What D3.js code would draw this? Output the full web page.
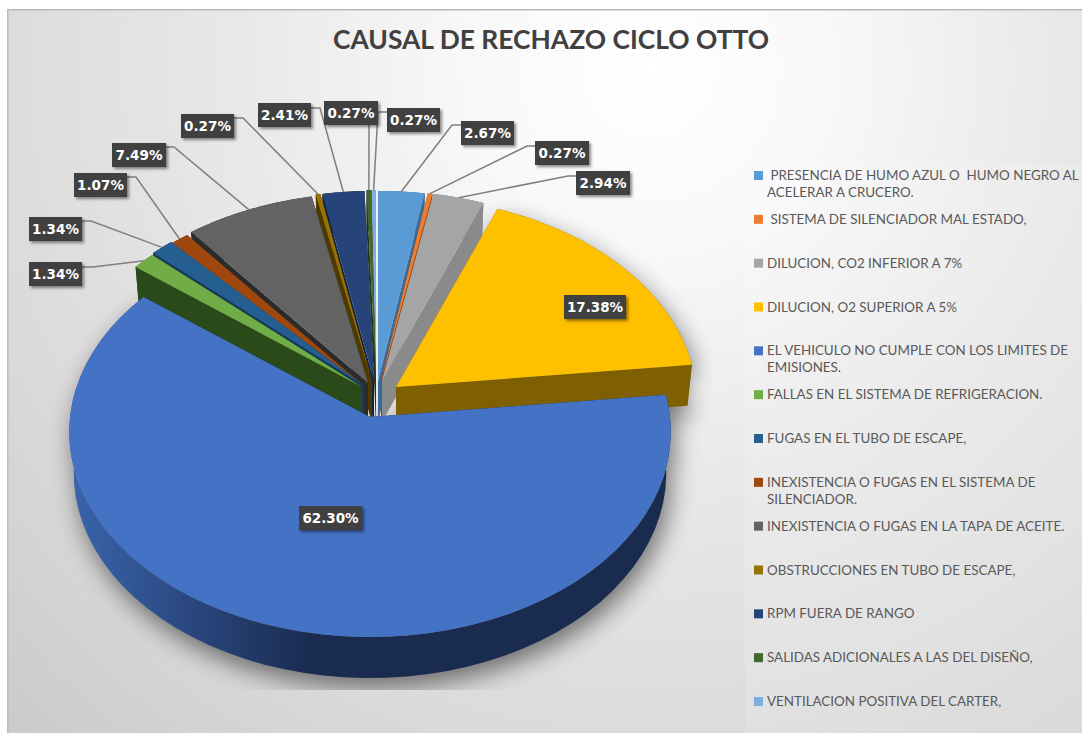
<!DOCTYPE html>
<html>
<head>
<meta charset="utf-8">
<script src="https://cdn.jsdelivr.net/npm/d3@7"></script>
<style>
  html, body { margin: 0; padding: 0; background: #fff; }
  svg { display: block; }
</style>
</head>
<body>
<div id="graph_01"></div>
<script>
// Datos
const categorias = [
  ' PRESENCIA DE HUMO AZUL O  HUMO NEGRO AL ACELERAR A CRUCERO.',
  ' SISTEMA DE SILENCIADOR MAL ESTADO,',
  'DILUCION, CO2 INFERIOR A 7%',
  'DILUCION, O2 SUPERIOR A 5%',
  'EL VEHICULO NO CUMPLE CON LOS LIMITES DE EMISIONES.',
  'FALLAS EN EL SISTEMA DE REFRIGERACION.',
  'FUGAS EN EL TUBO DE ESCAPE,',
  'INEXISTENCIA O FUGAS EN EL SISTEMA DE SILENCIADOR.',
  'INEXISTENCIA O FUGAS EN LA TAPA DE ACEITE.',
  'OBSTRUCCIONES EN TUBO DE ESCAPE,',
  'RPM FUERA DE RANGO',
  'SALIDAS ADICIONALES A LAS DEL DISEÑO,',
  'VENTILACION POSITIVA DEL CARTER,'
]
const valores = [2.67, 0.27, 2.94, 17.38, 62.30, 1.34, 1.34, 1.07, 7.49, 0.27, 2.41, 0.27, 0.27]
const titulo = 'CAUSAL DE RECHAZO CICLO OTTO'

// Colores
const colores = ['#5b9bd5', '#ed7d31', '#a5a5a5', '#ffc000', '#4472c4', '#70ad47', '#255e91', '#9e480e', '#636363', '#997300', '#264478', '#43682b', '#7cafdd']
const coloresLado = ['#3c6a94', '#8f4a1c', '#8a8a8a', '#7f6000', '#1a2b50', '#2b4a1a', '#16385a', '#5e2a08', '#2b2b2b', '#4d3a00', '#14233f', '#223516', '#4d7192']

// Vertice de cada porcion (pie despiezado)
const vertices = [[378, 381], [381, 381], [382, 381], [396, 387], [370, 417], [362, 387], [363, 385], [364, 386], [368, 383], [372, 381], [374, 381], [376, 380], [376, 380]]

// Posicion de las etiquetas [x, y, ancho, alto]
const etiquetas = [
  [461, 121, 53, 24], [535, 141, 54, 24], [576, 171, 54, 24], [564, 295, 62, 24], [299, 506, 63, 24],
  [29, 262, 53, 24], [29, 217, 53, 24], [74, 173, 53, 24], [112, 143, 54, 24], [181, 114, 53, 24],
  [258, 103, 53, 24], [324, 101, 54, 24], [387, 108, 53, 24]
]
// Codo de cada linea guia [x caja, x codo, y]
const codos = [
  [461, 452, 125], [535, 527, 146], [576, 568, 176], null, null,
  [82, 93, 267], [82, 91, 221], [127, 136, 177], [166, 174, 147], [234, 243, 118],
  [311, 320, 108], [369, 369, 123], [387, 378, 112]
]

const width = 1082
const height = 734
const rx = 300
const ry = 204
const persp = 0.073
const grosor = 41

const svg = d3.select('#graph_01').append('svg')
  .attr('width', width)
  .attr('height', height)
  .attr('viewBox', [0, 0, width, height])

const defs = svg.append('defs')

const fondo = defs.append('radialGradient').attr('id', 'fondo')
  .attr('gradientUnits', 'userSpaceOnUse')
  .attr('cx', 650).attr('cy', 70).attr('r', 930)
fondo.append('stop').attr('offset', '0%').attr('stop-color', '#ffffff')
fondo.append('stop').attr('offset', '20%').attr('stop-color', '#f8f8f8')
fondo.append('stop').attr('offset', '45%').attr('stop-color', '#e8e8e8')
fondo.append('stop').attr('offset', '70%').attr('stop-color', '#dcdcdc')
fondo.append('stop').attr('offset', '100%').attr('stop-color', '#cacaca')

const ladoGrande = defs.append('linearGradient').attr('id', 'ladoGrande')
  .attr('gradientUnits', 'userSpaceOnUse')
  .attr('x1', 70).attr('y1', 0).attr('x2', 670).attr('y2', 0)
ladoGrande.append('stop').attr('offset', '0%').attr('stop-color', '#3a64ad')
ladoGrande.append('stop').attr('offset', '40%').attr('stop-color', '#1a2b50')
ladoGrande.append('stop').attr('offset', '100%').attr('stop-color', '#1a2b50')

defs.append('filter').attr('id', 'blurSombra')
  .attr('x', '-20%').attr('y', '-20%').attr('width', '140%').attr('height', '140%')
  .append('feGaussianBlur').attr('stdDeviation', 12)

const sombraCaja = defs.append('filter').attr('id', 'sombraCaja')
  .attr('x', '-20%').attr('y', '-20%').attr('width', '150%').attr('height', '150%')
sombraCaja.append('feDropShadow').attr('dx', 2).attr('dy', 2).attr('stdDeviation', 1.5)
  .attr('flood-color', '#000').attr('flood-opacity', 0.45)

defs.append('clipPath').attr('id', 'clipSombra')
  .append('rect').attr('x', 30).attr('y', 150).attr('width', 682).attr('height', 540)

// Fondo
svg.append('rect').attr('x', 7).attr('y', 9).attr('width', width - 7).attr('height', 724)
  .attr('fill', 'url(#fondo)')
svg.append('rect').attr('x', 7).attr('y', 9).attr('width', width - 7).attr('height', 1.5).attr('fill', '#b8b8b8')
svg.append('rect').attr('x', 7).attr('y', 9).attr('width', 1.5).attr('height', 724).attr('fill', '#bcbcbc')
svg.append('rect').attr('x', 745).attr('y', 163).attr('width', width - 745).attr('height', 570)
  .attr('fill', '#fff').attr('opacity', 0.15)

// Titulo
svg.append('text')
  .attr('x', 551).attr('y', 49)
  .attr('text-anchor', 'middle')
  .attr('font-family', 'Lato')
  .attr('font-weight', 'bold')
  .attr('font-size', 26.4)
  .attr('fill', '#404040')
  .text(titulo)

// Pie: angulos con d3.pie, desde las 12 en sentido horario
const pie = d3.pie().sort(null).value(d => d)
const porciones = pie(valores).map((d, i) => ({
  ...d,
  i,
  ax: vertices[i][0],
  ay: vertices[i][1]
}))

// Proyeccion en perspectiva de un punto del disco
const proyectar = (p, ang, r = 1) => {
  const s = 1 / (1 + persp * r * Math.cos(ang))
  return [p.ax + rx * r * Math.sin(ang) * s, p.ay - ry * r * Math.cos(ang) * s]
}

const arco = (p, desde, hasta) => d3.range(0, 61).map(k => proyectar(p, desde + (hasta - desde) * k / 60))
const linea = d3.line()
// La base del disco queda un poco mas estrecha que la cara superior
const bajar = (p, pts) => pts.map(q => [p.ax + (q[0] - p.ax) * 0.985, q[1] + grosor])

const gSombra = svg.append('g').attr('clip-path', 'url(#clipSombra)')
const gPie = svg.append('g').attr('class', 'pie')

// Orden de pintado: derecha hacia fuera, izquierda hacia fuera, grande al final
const orden = [0, 1, 2, 3, 12, 11, 10, 9, 8, 7, 6, 5, 4]

orden.forEach(i => {
  const p = porciones[i]
  const centro = [p.ax, p.ay]
  const borde = arco(p, p.startAngle, p.endAngle)
  const caraSuperior = [centro, ...borde]
  const lado = coloresLado[i]

  // Sombra difusa, solo bajo las porciones grandes
  if (i === 4 || i === 3) {
    gSombra.append('path')
      .attr('d', linea([...bajar(p, caraSuperior), ...caraSuperior].map(q => [q[0] + 4, q[1] + 10])) + 'Z')
      .attr('fill', '#000').attr('opacity', 0.5)
      .attr('filter', 'url(#blurSombra)')
  }

  const g = gPie.append('g')
  // Paredes radiales
  ;[borde[0], borde[borde.length - 1]].forEach(q => {
    const [qb] = bajar(p, [q])
    g.append('path')
      .attr('d', linea([centro, q, qb, [centro[0], centro[1] + grosor]]) + 'Z')
      .attr('fill', lado)
  })
  // Pared exterior
  g.append('path')
    .attr('d', linea([...borde, ...bajar(p, borde).reverse()]) + 'Z')
    .attr('fill', i === 4 ? 'url(#ladoGrande)' : lado)
  // Cara superior
  g.append('path')
    .attr('d', linea(caraSuperior) + 'Z')
    .attr('fill', colores[i])
})

// Lineas guia
const gGuias = svg.append('g')
porciones.forEach(p => {
  const c = codos[p.i]
  if (!c) return
  const fin = proyectar(p, (p.startAngle + p.endAngle) / 2)
  gGuias.append('path')
    .attr('d', linea([[c[0], c[2]], [c[1], c[2]], fin]))
    .attr('fill', 'none')
    .attr('stroke', '#7f7f7f')
    .attr('stroke-width', 1.5)
})

// Etiquetas
const gEtiq = svg.append('g')
valores.forEach((v, i) => {
  const [x, y, w, h] = etiquetas[i]
  gEtiq.append('rect')
    .attr('x', x).attr('y', y).attr('width', w).attr('height', h)
    .attr('fill', '#404040')
    .attr('filter', 'url(#sombraCaja)')
  gEtiq.append('text')
    .attr('x', x + w / 2).attr('y', y + h / 2 + 5)
    .attr('text-anchor', 'middle')
    .attr('font-family', 'DejaVu Sans')
    .attr('font-weight', 'bold')
    .attr('font-size', 13.5)
    .attr('fill', '#fff')
    .text(d3.format('.2f')(v) + '%')
})

// Leyenda
const yLeyenda = d3.scaleLinear().domain([0, categorias.length - 1]).range([175, 701])
const gLeyenda = svg.append('g')
categorias.forEach((cat, i) => {
  const y = yLeyenda(i)
  gLeyenda.append('rect')
    .attr('x', 754).attr('y', y - 4).attr('width', 9).attr('height', 9)
    .attr('fill', colores[i])
  const txt = gLeyenda.append('text')
    .attr('font-family', 'Lato')
    .attr('font-size', 13.4)
    .attr('fill', '#595959')
    .style('white-space', 'pre')
  // Corte de linea por ancho disponible
  const palabras = cat.split(/(?<=\S) (?=\S)/)
  let fila = ''
  let n = 0
  const escribir = s => {
    txt.append('tspan').attr('x', 767).attr('y', y + 5 + n * 17).text(s)
    n++
  }
  const medida = txt.append('tspan').attr('opacity', 0)
  palabras.forEach(w => {
    const prueba = fila ? fila + ' ' + w : w
    medida.text(prueba)
    if (medida.node().getComputedTextLength() > 314 && fila) {
      escribir(fila)
      fila = w
    } else {
      fila = prueba
    }
  })
  medida.remove()
  escribir(fila)
})
</script>
</body>
</html>
